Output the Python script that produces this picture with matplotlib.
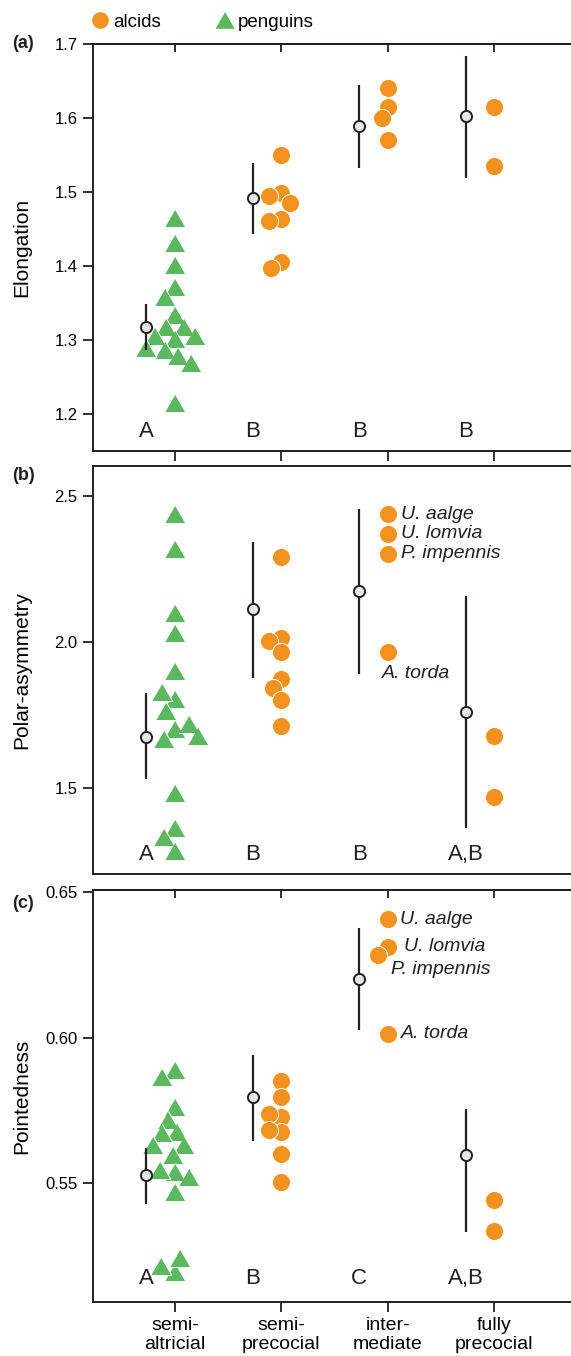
import numpy as np
import matplotlib
matplotlib.use("Agg")
import matplotlib.pyplot as plt
from matplotlib.lines import Line2D
from matplotlib.ticker import FormatStrFormatter

plt.rcParams['font.family'] = ['Liberation Sans', 'DejaVu Sans']

categories = ["semi-\naltricial", "semi-\nprecocial", "inter-\nmediate", "fully\nprecocial"]
species_intermediate = ["U. aalge", "U. lomvia", "P. impennis", "A. torda"]

# elongation
elong_penguins = [1.465, 1.431, 1.401, 1.372, 1.358, 1.334, 1.318, 1.318,
                  1.305, 1.301, 1.305, 1.287, 1.289, 1.278, 1.269, 1.215]
elong_alcids = [[], [1.550, 1.498, 1.494, 1.485, 1.463, 1.461, 1.406, 1.397],
                [1.641, 1.615, 1.600, 1.570], [1.615, 1.535]]
elong_mean = [1.318, 1.492, 1.589, 1.603]
elong_lo = [1.286, 1.443, 1.532, 1.519]
elong_hi = [1.349, 1.539, 1.645, 1.684]
elong_groups = ["A", "B", "B", "B"]

# polar asymmetry
asym_penguins = [2.437, 2.318, 2.100, 2.032, 1.901, 1.804, 1.827, 1.764,
                 1.701, 1.718, 1.667, 1.678, 1.484, 1.364, 1.330, 1.284]
asym_alcids = [[], [2.291, 2.012, 2.003, 1.966, 1.872, 1.841, 1.800, 1.712],
               [2.437, 2.371, 2.303, 1.966], [1.678, 1.469]]
asym_mean = [1.675, 2.112, 2.175, 1.760]
asym_lo = [1.530, 1.878, 1.891, 1.363]
asym_hi = [1.824, 2.343, 2.455, 2.158]
asym_groups = ["A", "B", "B", "A,B"]

# pointedness
point_penguins = [0.5889, 0.5866, 0.5763, 0.5718, 0.5677, 0.5672, 0.5632, 0.5632,
                  0.5597, 0.5540, 0.5546, 0.5523, 0.5472, 0.5197, 0.5217, 0.5244]
point_alcids = [[], [0.5851, 0.5798, 0.5729, 0.5737, 0.5677, 0.5683, 0.5601, 0.5506],
                [0.6406, 0.6312, 0.6284, 0.6013], [0.5443, 0.5336]]
point_mean = [0.5529, 0.5798, 0.6200, 0.5597]
point_lo = [0.5429, 0.5646, 0.6026, 0.5333]
point_hi = [0.5620, 0.5941, 0.6377, 0.5755]
point_groups = ["A", "B", "C", "A,B"]

ORANGE = '#F4921F'
GREEN = '#5CB85F'
DARK = '#231F20'
TRI = [(-1, -0.866), (1, -0.866), (0, 0.866)]
xpos = np.arange(1, len(categories) + 1)


def swarm(ax, x0, values, diam, overlap=0.7):
    # simple beeswarm in pixel space, returns x positions in data units
    pts = ax.transData.transform([(x0, v) for v in values])
    ys = pts[:, 1]
    ppu = ax.transData.transform((1, 0))[0] - ax.transData.transform((0, 0))[0]
    d = diam * overlap
    placed = []
    xs = np.zeros(len(values))
    for i in range(len(values)):
        y = ys[i]
        cands = [0.0]
        for px, py in placed:
            dy = abs(py - y)
            if dy < d:
                dx = np.sqrt(d * d - dy * dy)
                cands += [px - dx, px + dx]
        cands.sort(key=abs)
        for c in cands:
            if all((c - px) ** 2 + (y - py) ** 2 >= d * d - 1e-6 for px, py in placed):
                break
        placed.append((c, y))
        xs[i] = c
    return x0 + xs / ppu


def panel(ax, penguins, alcids, mean, lo, hi, groups, ylim, yticks, fmt, ylabel, letter_y):
    ax.set_xlim(0.23, 4.72)
    ax.set_ylim(*ylim)
    ax.set_yticks(yticks)
    ax.yaxis.set_major_formatter(FormatStrFormatter(fmt))
    for s in ['left', 'top', 'bottom']:
        ax.spines[s].set_linewidth(1.4)
        ax.spines[s].set_color(DARK)
    ax.spines['right'].set_visible(False)
    ax.tick_params(axis='y', direction='out', length=7, width=1.3, color=DARK,
                   labelsize=12, pad=4)
    ax.set_ylabel(ylabel, fontsize=15)
    ax.yaxis.set_label_coords(-0.13, 0.5)

    xp = swarm(ax, 1, penguins, 21)
    ax.scatter(xp, penguins, marker=TRI, s=15 ** 2, color=GREEN,
               edgecolors='white', linewidths=0.7, zorder=3)
    for k, vals in enumerate(alcids):
        if not vals:
            continue
        xa = swarm(ax, xpos[k], vals, 18)
        ax.scatter(xa, vals, marker='o', s=13 ** 2, color=ORANGE,
                   edgecolors='white', linewidths=0.7, zorder=3)

    xs = xpos - 0.27
    ax.vlines(xs, lo, hi, color=DARK, lw=1.6, zorder=4)
    ax.plot(xs, mean, 'o', ms=8, mfc='#E6E7E8', mec=DARK, mew=1.4, zorder=5)
    for x, g in zip(xs, groups):
        ax.text(x, letter_y, g, transform=ax.get_xaxis_transform(),
                ha='center', va='center', fontsize=16, color=DARK)


def top_ticks(ax):
    sec = ax.secondary_xaxis('top')
    sec.set_xticks(xpos)
    sec.set_xticklabels([])
    sec.tick_params(direction='in', length=6, width=1.3, color=DARK)
    sec.spines['top'].set_linewidth(1.4)
    sec.spines['top'].set_color(DARK)


fig = plt.figure(figsize=(5.71, 13.56), dpi=100)
left = 93 / 571
ax_a = fig.add_axes([left, 0.6674, 1 - left, 0.3002])
ax_b = fig.add_axes([left, 0.3555, 1 - left, 0.3008])
ax_c = fig.add_axes([left, 0.0398, 1 - left, 0.3039])

panel(ax_a, elong_penguins, elong_alcids, elong_mean, elong_lo, elong_hi, elong_groups,
      (1.15, 1.70), [1.2, 1.3, 1.4, 1.5, 1.6, 1.7], '%.1f', 'Elongation', 0.047)
panel(ax_b, asym_penguins, asym_alcids, asym_mean, asym_lo, asym_hi, asym_groups,
      (1.205, 2.603), [1.5, 2.0, 2.5], '%.1f', 'Polar-asymmetry', 0.047)
panel(ax_c, point_penguins, point_alcids, point_mean, point_lo, point_hi, point_groups,
      (0.5093, 0.6507), [0.55, 0.60, 0.65], '%.2f', 'Pointedness', 0.058)

# x ticks: (a) out at bottom and in at top, (b) none, (c) in at top and labelled at bottom
ax_a.set_xticks(xpos)
ax_a.set_xticklabels([])
ax_a.tick_params(axis='x', direction='out', length=7, width=1.3, color=DARK)
top_ticks(ax_a)
ax_b.set_xticks([])
ax_c.set_xticks(xpos)
ax_c.set_xticklabels(categories, fontsize=14, linespacing=1.15)
ax_c.tick_params(axis='x', direction='out', length=7, width=1.3, color=DARK, pad=4)
top_ticks(ax_c)

# species names for the intermediate alcids
b_offsets = [(13, 0), (13, 0), (13, 0), (-6, -22)]
for name, v, off in zip(species_intermediate, asym_alcids[2], b_offsets):
    ax_b.annotate(name, (3, v), xytext=off, textcoords='offset pixels',
                  ha='left', va='center', fontsize=14, style='italic', color=DARK)
c_offsets = [(12, 0), (16, 0), (3, -15), (13, 0)]
for name, v, off in zip(species_intermediate, point_alcids[2], c_offsets):
    ax_c.annotate(name, (3, v), xytext=off, textcoords='offset pixels',
                  ha='left', va='center', fontsize=14, style='italic', color=DARK)

for lab, y in [('(a)', 44), ('(b)', 475), ('(c)', 903)]:
    fig.text(12 / 571, 1 - y / 1356, lab, fontsize=13, fontweight='bold',
             ha='left', va='center', color=DARK)

handles = [Line2D([], [], ls='', marker='o', ms=13, color=ORANGE, mec='white'),
           Line2D([], [], ls='', marker=TRI, ms=15, color=GREEN, mec='white')]
fig.legend(handles, ['alcids', 'penguins'], loc='center left',
           bbox_to_anchor=(91 / 571, 1 - 22 / 1356), ncol=2, frameon=False,
           fontsize=13.5, handlelength=1.0, handletextpad=0.2, columnspacing=2.9,
           borderpad=0, borderaxespad=0)

fig.savefig('out.png', dpi=100)
